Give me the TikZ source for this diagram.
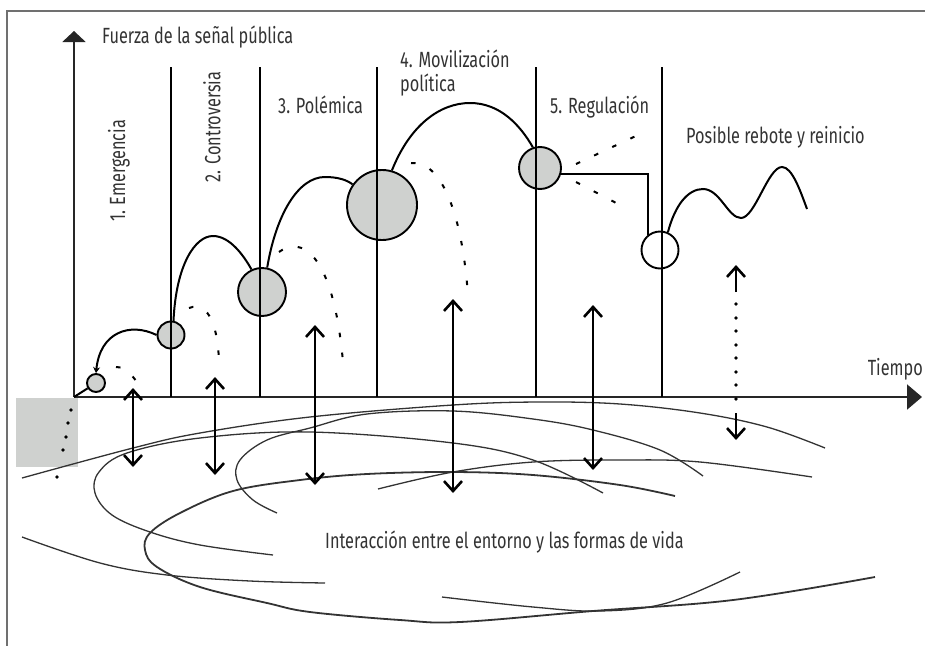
\documentclass[tikz,border=0pt]{standalone}
\usepackage{fontspec}
\setmainfont{Fira Sans}[FakeStretch=0.74]
\usetikzlibrary{arrows.meta}
\definecolor{bubblegray}{HTML}{CFD1CF}
\definecolor{framegray}{HTML}{707070}
\definecolor{inkgray}{HTML}{333333}
\tikzset{
  frameline/.style={draw=framegray, line width=1.5pt},
  axisline/.style={draw=black!85, line width=2pt},
  phaseline/.style={draw=black, line width=1.5pt},
  bubble/.style={circle, draw=black, line width=1.9pt, fill=bubblegray, inner sep=0pt},
  curveline/.style={draw=black, line width=2pt},
  dashcurve/.style={draw=black, line width=2pt, dash pattern=on 4.5pt off 15.5pt},
  barb/.tip={Straight Barb[length=10pt,width=18pt]},
  dblarrow/.style={draw=black, line width=2.6pt, barb-barb},
  groundline/.style={draw=inkgray, line width=1.3pt},
  groundthick/.style={draw=inkgray, line width=1.8pt},
  lbl/.style={font=\fontsize{22}{26}\selectfont, text=inkgray, inner sep=0pt}
}
\begin{document}
\begin{tikzpicture}[x=1pt,y=-1pt]
\useasboundingbox (0,0) rectangle (925,645);
% frame (cropped)
\draw[frameline] (7,700) -- (7,11) -- (1000,11);
% gray patch
\fill[bubblegray] (16,398) rectangle (78,467);
\foreach \p in {(71,410),(68,423),(66,437),(63,450),(57,477)} \fill[black] \p circle (1.9);
% ground curves
\draw[groundline] plot[smooth, tension=0.6] coordinates {(22,478) (133,448) (200,433) (310,417) (453,405) (540,402) (620,404) (700,413) (767,427) (825,448)};
\draw[groundline] plot[smooth, tension=0.6] coordinates {(273,555) (200,545) (150,532) (112,515) (95,493) (99,472) (127,453) (200,438) (310,432) (453,443) (533,460) (603,493)};
\draw[groundline] plot[smooth, tension=0.6] coordinates {(277,513) (253,500) (237,480) (240,460) (267,440) (310,428) (367,414) (453,411) (533,419) (593,430) (660,450) (703,476)};
\draw[groundline] plot[smooth, tension=0.6] coordinates {(378,489) (453,472) (533,462) (620,460) (700,462) (812,477)};
\draw[groundthick] plot[smooth, tension=0.6] coordinates {(675,496) (620,485) (533,475) (453,472) (367,474) (300,480) (233,491) (180,513) (150,533) (145,550) (157,567) (200,587) (267,603) (310,612) (400,620) (460,622) (593,611) (733,600) (875,577)};
\draw[groundline] plot[smooth, tension=0.6] coordinates {(22,537) (100,563) (167,575) (250,581) (325,583)};
\draw[groundline] plot[smooth, tension=0.6] coordinates {(442,597) (533,607) (600,611) (667,603) (740,572)};
% bubbles
\node[bubble, minimum size=18pt] (c0) at (96,383) {};
\node[bubble, minimum size=27pt] (c1) at (171,335) {};
\node[bubble, minimum size=48pt] (c2) at (262,292) {};
\node[bubble, minimum size=70pt] (c3) at (382,205) {};
\node[bubble, minimum size=42pt] (c4) at (540,168) {};
\node[bubble, minimum size=37pt, fill=white] (c5) at (660,250) {};
% axes
\coordinate (O) at (74,397);
\coordinate (ytip) at (74,31);
\coordinate (xtip) at (922,397);
\draw[axisline, -{Triangle[length=11pt,width=23pt]}] (O) -- (ytip);
\draw[axisline, -{Triangle[length=15pt,width=25pt]}] (O) -- (xtip);
% phase lines
\foreach \x/\n in {171/p1,260/p2,377/p3,536/p4,662/p5}{
  \coordinate (\n t) at (\x,67);
  \coordinate (\n b) at (\x,397);
  \draw[phaseline] (\n t) -- (\n b);
}
% trajectory
\draw[curveline] (O) -- (c0);
\draw[curveline, -{Stealth[length=6pt,width=7pt]}] (c1.west) .. controls (130,322) and (100,332) .. (c0.north);
\draw[curveline] (c1.80) .. controls (176,265) and (195,236) .. (213,236) .. controls (230,236) and (244,256) .. (c2.115);
\draw[curveline] (c2.78) .. controls (276,215) and (298,177) .. (325,177) .. controls (338,177) and (347,180) .. (c3.145);
\draw[curveline] (c3.74) .. controls (410,125) and (440,103) .. (470,103) .. controls (500,103) and (520,125) .. (c4.109);
\draw[curveline] (c4.-15) -| (c5.128);
\coordinate (waveEnd) at (807,209);
\draw[curveline] (c5.66) .. controls (675,205) and (688,189) .. (703,189) .. controls (720,189) and (728,218) .. (741,218) .. controls (755,218) and (768,167) .. (782,167) .. controls (792,167) and (800,190) .. (waveEnd);
% fading dashed arcs
\draw[dashcurve] (116,367) .. controls (126,368) .. (137,382);
\draw[dashcurve] (189,308) .. controls (210,300) and (218,330) .. (219,362);
\draw[dashcurve] (279,252) .. controls (300,236) and (333,250) .. (343,362);
\draw[dashcurve] (411,163) .. controls (440,160) and (462,210) .. (468,296);
\draw[dashcurve] (576,164) -- (638,135);
\draw[dashcurve] (576,182) -- (620,205);
% double arrows
\foreach \x/\a/\b/\n in {133/388/467/a1,215/377/475/a2,315/325/485/a3,453/299/493/a4,593/305/470/a5}{
  \coordinate (\n t) at (\x,\a);
  \coordinate (\n b) at (\x,\b);
  \draw[dblarrow] (\n t) -- (\n b);
}
\coordinate (a6t) at (736,265);
\coordinate (a6m) at (736,292);
\coordinate (a6n) at (736,413);
\coordinate (a6b) at (736,440);
\draw[line width=2.6pt, -barb] (a6m) -- (a6t);
\draw[line width=2.6pt, -barb] (a6n) -- (a6b);
\foreach \y in {304,318,331,345,358,372,385,399} \fill[black] (736,\y) circle (1.9);
% labels
\node[lbl, anchor=base west] (ylab) at (102,43) {Fuerza de la señal pública};
\node[lbl, anchor=base east] (xlab) at (923,375) {Tiempo};
\node[lbl, rotate=90] (l1) at (119,171) {1. Emergencia};
\node[lbl, rotate=90] (l2) at (212,127) {2. Controversia};
\node[lbl, anchor=base west] (l3) at (278,113) {3. Polémica};
\node[lbl, anchor=base west] (l4a) at (400,67) {4. Movilización};
\node[lbl, anchor=base west] (l4b) at (400,91) {política};
\node[lbl, anchor=base west] (l5) at (550,113) {5. Regulación};
\node[lbl, anchor=base west] (l6) at (686,143) {Posible rebote y reinicio};
\node[lbl, anchor=base west] (l7) at (325,548) {Interacción entre el entorno y las formas de vida};
\end{tikzpicture}
\end{document}
